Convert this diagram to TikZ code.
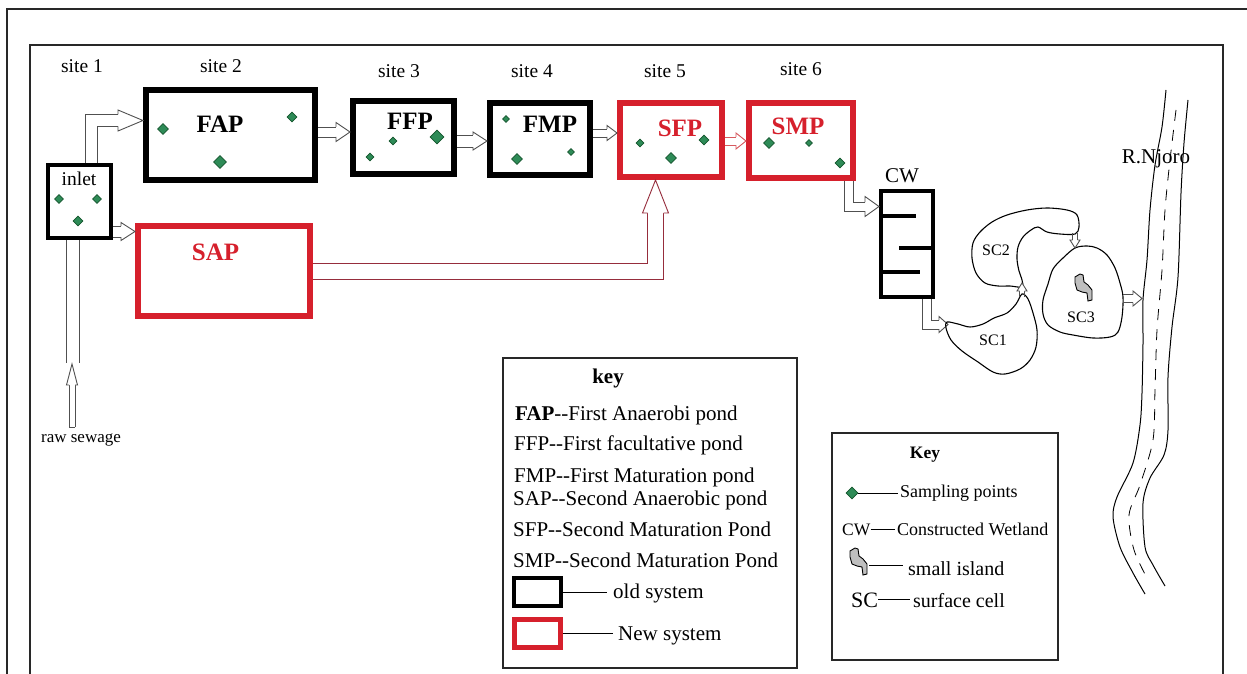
\documentclass[tikz,border=0pt]{standalone}
\usepackage{fontspec}
\setmainfont{Liberation Serif}
\usetikzlibrary{calc,shapes.geometric}
\definecolor{pred}{RGB}{214,32,44}
\definecolor{mgreen}{RGB}{46,139,87}
\definecolor{dgreen}{RGB}{20,85,45}
\definecolor{pipecol}{RGB}{80,80,80}
\definecolor{sapcol}{RGB}{150,45,60}
\definecolor{lredcol}{RGB}{215,90,95}
\definecolor{framecol}{RGB}{40,40,40}
\newcommand\szSite{\fontsize{19.5}{23}\selectfont}
\newcommand\szPond{\fontsize{25}{29}\selectfont\bfseries}
\newcommand\szKey{\fontsize{21}{25}\selectfont}
\newcommand\szKeyB{\fontsize{18}{21}\selectfont}
\newcommand\szSC{\fontsize{16}{19}\selectfont}
% arrow head: [style]{base}{tip}{shaft half width}{head half width}
\newcommand\blkhead[5][]{%
  \fill[white] ($(#2)!#5!90:(#3)$) -- (#3) -- ($(#2)!#5!-90:(#3)$) -- cycle;
  \draw[pline,#1] ($(#2)!#4!90:(#3)$) -- ($(#2)!#5!90:(#3)$) -- (#3) -- ($(#2)!#5!-90:(#3)$) -- ($(#2)!#4!-90:(#3)$);
}
% straight horizontal shaft: [style]{from}{to}{half width}
\newcommand\hshaft[4][]{%
  \draw[pline,#1] ($(#2)+(0,-#4)$) -- ($(#3)+(0,-#4)$);
  \draw[pline,#1] ($(#2)+(0,#4)$) -- ($(#3)+(0,#4)$);
}
% straight vertical shaft
\newcommand\vshaft[4][]{%
  \draw[pline,#1] ($(#2)+(-#4,0)$) -- ($(#3)+(-#4,0)$);
  \draw[pline,#1] ($(#2)+(#4,0)$) -- ($(#3)+(#4,0)$);
}
\begin{document}
\begin{tikzpicture}[x=1pt,y=-1pt,
  bpond/.style={rectangle, draw=black, line width=6pt, inner sep=0pt, fill=white},
  rpond/.style={rectangle, draw=pred, line width=6pt, inner sep=0pt, fill=white},
  pline/.style={draw=pipecol, line width=0.9pt, line join=miter},
  lbl/.style={anchor=base, inner sep=0pt},
  lblw/.style={anchor=base west, inner sep=0pt},
  dia/.style={diamond, draw=dgreen, fill=mgreen, line width=0.6pt, inner sep=0pt, minimum size=#1},
  dia/.default=10pt,
  frame/.style={draw=framecol, line width=1.4pt},
  keybox/.style={rectangle, draw=framecol, line width=1.2pt, inner sep=0pt},
  scline/.style={draw=black, line width=1.1pt},
  bank/.style={draw=black, line width=1pt},
  island/.pic={\filldraw[fill=black!25, draw=black, line width=0.9pt] (-8,-10) -- (-3,-13) -- (0,-12) -- (1,-5) -- (5,-2) -- (9,3) -- (9,13) -- (5,14) -- (4,6) -- (-1,5) -- (-6,3) -- (-8,-4) -- cycle;}
]
\useasboundingbox (0,0) rectangle (1247,674);
\fill[white] (0,0) rectangle (1247,674);

% frames
\draw[frame] (7,674) -- (7,9) -- (1247,9);
\draw[frame] (30,674) -- (30,45) -- (1223,45) -- (1223,674);

% ponds
\node[bpond, line width=4pt, minimum width=63, minimum height=73] (inlet) at (79.5,201.5) {};
\node[bpond, minimum width=169, minimum height=90] (fap) at (230.5,135) {};
\node[bpond, minimum width=101, minimum height=73] (ffp) at (403.5,137.5) {};
\node[bpond, minimum width=100, minimum height=72] (fmp) at (540,139) {};
\node[rpond, minimum width=102, minimum height=74] (sfp) at (671,140) {};
\node[rpond, minimum width=104, minimum height=75] (smp) at (801,140.5) {};
\node[rpond, minimum width=172, minimum height=90] (sap) at (224,271) {};
\node[bpond, line width=4pt, minimum width=52, minimum height=106] (cw) at (907,244) {};
% CW baffles
\draw[line width=3.5pt] (cw.west |- 0,216) -- (916,216);
\draw[line width=3.5pt] (899,248) -- (cw.east |- 0,248);
\draw[line width=3.5pt] (cw.west |- 0,272) -- (920,272);

% inlet -> FAP (up, then right)
\coordinate (a1) at ($(inlet.north)+(11.5,0)$);
\coordinate (h1) at (118,120.5); \coordinate (t1) at (fap.west |- h1);
\draw[pline] ($(a1)+(-6,0)$) |- ($(h1)+(0,-6)$);
\draw[pline] ($(a1)+(6,0)$) |- ($(h1)+(0,6)$);
\blkhead{h1}{t1}{6pt}{10.5pt}

% inlet -> SAP
\coordinate (h2) at (121,231.5); \coordinate (t2) at (sap.west |- h2);
\coordinate (a2) at (inlet.east |- h2);
\hshaft{a2}{h2}{5.5}
\blkhead{h2}{t2}{5.5pt}{9pt}

% FAP -> FFP
\coordinate (h3) at (336,132); \coordinate (t3) at (ffp.west |- h3);
\coordinate (a3) at (fap.east |- h3);
\hshaft{a3}{h3}{5}
\blkhead{h3}{t3}{5pt}{9.5pt}

% FFP -> FMP
\coordinate (h4) at (473,141); \coordinate (t4) at (fmp.west |- h4);
\coordinate (a4) at (ffp.east |- h4);
\hshaft{a4}{h4}{6}
\blkhead{h4}{t4}{6pt}{9pt}

% FMP -> SFP
\coordinate (h5) at (607,133); \coordinate (t5) at (sfp.west |- h5);
\coordinate (a5) at (fmp.east |- h5);
\hshaft{a5}{h5}{4}
\blkhead{h5}{t5}{4pt}{7.5pt}

% SFP -> SMP
\coordinate (h6) at (736,141); \coordinate (t6) at (smp.west |- h6);
\coordinate (a6) at (sfp.east |- h6);
\hshaft[draw=lredcol]{a6}{h6}{4}
\blkhead[draw=lredcol]{h6}{t6}{4pt}{8pt}

% SAP -> SFP (right, then up)
\coordinate (a7) at (sap.east);
\coordinate (h7) at (655.5,213); \coordinate (t7) at (h7 |- sfp.south);
\draw[pline, draw=sapcol] ($(a7)+(0,8)$) -| ($(h7)+(8,0)$);
\draw[pline, draw=sapcol] ($(a7)+(0,-8)$) -| ($(h7)+(-8,0)$);
\blkhead[draw=sapcol]{h7}{t7}{8pt}{13pt}

% SMP -> CW (down, then right)
\coordinate (a8) at ($(smp.south)+(47.5,0)$);
\coordinate (h8) at (865,206.5); \coordinate (t8) at (cw.west |- h8);
\draw[pline] ($(a8)+(-4.5,0)$) |- ($(h8)+(0,4.5)$);
\draw[pline] ($(a8)+(4.5,0)$) |- ($(h8)+(0,-4.5)$);
\blkhead{h8}{t8}{4.5pt}{10pt}

% CW -> SC1 (down, then right)
\coordinate (a9) at ($(cw.south)+(19.5,0)$);
\coordinate (h9) at (939,324.5); \coordinate (t9) at (948,324.5);
\draw[pline] ($(a9)+(-4.5,0)$) |- ($(h9)+(0,4.5)$);
\draw[pline] ($(a9)+(4.5,0)$) |- ($(h9)+(0,-4.5)$);
\blkhead{h9}{t9}{4.5pt}{8pt}

% inlet bottom pipe and raw sewage
\coordinate (p1) at ($(inlet.south)+(-7,0)$);
\coordinate (p0) at (72.5,363);
\vshaft{p1}{p0}{6.5}
\coordinate (r0) at (72,427); \coordinate (h13) at (72,385); \coordinate (t13) at (72,364);
\vshaft{r0}{h13}{3}
\draw[pline] ($(r0)+(-3,0)$) -- ($(r0)+(3,0)$);
\blkhead{h13}{t13}{3pt}{5.5pt}
\node[lbl, font=\fontsize{17}{20}\selectfont] (raw) at (81,442) {raw sewage};

% surface cells
\draw[scline] plot[smooth cycle, tension=0.55] coordinates {(947,322) (958,324) (970,327) (983,324) (994,318) (1007,313) (1016,304) (1022,294) (1028,299) (1033,313) (1037,330) (1036,347) (1030,360) (1020,369) (1005,374) (993,372) (978,362) (962,351) (951,340) (946,328)};
\draw[scline] plot[smooth cycle, tension=0.55] coordinates {(1022,287) (1010,286) (998,286) (985,283) (976,273) (972,258) (973,243) (980,232) (992,222) (1007,215) (1027,210) (1047,208) (1067,210) (1077,215) (1079,227) (1075,234) (1060,234) (1047,232) (1038,227) (1031,230) (1023,237) (1018,247) (1017,259) (1019,271) (1022,280)};
\draw[scline] plot[smooth cycle, tension=0.55] coordinates {(1075,248) (1087,246) (1097,248) (1107,255) (1115,268) (1120,283) (1123,297) (1122,317) (1118,332) (1110,337) (1093,338) (1073,335) (1060,332) (1048,325) (1043,314) (1043,300) (1048,284) (1053,269) (1063,258)};
\pic at (1083,287) {island};
\node[lbl, font=\szSC] (sc2) at (996,255) {SC2};
\node[lbl, font=\szSC] (sc1) at (993,345) {SC1};
\node[lbl, font=\szSC] (sc3) at (1081,322) {SC3};

\coordinate (a10) at (1022,297); \coordinate (h10) at (1022,291); \coordinate (t10) at (1022,283);
\vshaft{a10}{h10}{2.5}
\blkhead{h10}{t10}{2.5pt}{5pt}
\coordinate (a11) at (1075,233); \coordinate (h11) at (1075,240); \coordinate (t11) at (1075,248);
\vshaft{a11}{h11}{2.5}
\blkhead{h11}{t11}{2.5pt}{5pt}
\coordinate (a12) at (1123,298.5); \coordinate (h12) at (1133,298.5); \coordinate (t12) at (1142,298.5);
\hshaft{a12}{h12}{4}
\blkhead{h12}{t12}{4pt}{7.5pt}

% river
\draw[bank] plot[smooth] coordinates {(1166,90) (1162,127) (1155,165) (1150,210) (1147,260) (1143,300) (1143,343) (1142,393) (1140,425) (1133,463) (1117,497) (1113,517) (1120,547) (1133,573) (1145,594)};
\draw[bank] plot[smooth] coordinates {(1188,100) (1184,143) (1181,193) (1178,277) (1172,327) (1168,377) (1168,430) (1164,455) (1150,478) (1143,503) (1145,547) (1153,565) (1165,586)};
\draw[line width=0.8pt, dash pattern=on 11pt off 9pt] plot[smooth] coordinates {(1176,110) (1170,160) (1165,210) (1162,270) (1157,330) (1155,390) (1153,440) (1140,485) (1129,515) (1134,550) (1148,580)};
\node[lbl, font=\fontsize{21}{25}\selectfont] (njoro) at (1156,163) {R.Njoro};

% labels
\node[lbl, font=\szSite] (s1) at (82,73) {site 1};
\node[lbl, font=\szSite] (s2) at (221,73) {site 2};
\node[lbl, font=\szSite] (s3) at (399,78) {site 3};
\node[lbl, font=\szSite] (s4) at (532,78) {site 4};
\node[lbl, font=\szSite] (s5) at (665,78) {site 5};
\node[lbl, font=\szSite] (s6) at (801,76) {site 6};
\node[lbl, font=\szSite] (linlet) at (79,185) {inlet};
\node[lbl, font=\szPond] (lfap) at (220,132) {FAP};
\node[lbl, font=\szPond] (lffp) at (410,130) {FFP};
\node[lbl, font=\szPond] (lfmp) at (550,132) {FMP};
\node[lbl, font=\szPond, text=pred] (lsfp) at (680,136) {SFP};
\node[lbl, font=\szPond, text=pred] (lsmp) at (798,135) {SMP};
\node[lbl, font=\szPond, text=pred] (lsap) at (215.5,260) {SAP};
\node[lbl, font=\fontsize{21}{25}\selectfont] (lcw) at (902,182) {CW};

% sampling points
\node[dia=9pt] (d1) at (59,199) {};
\node[dia=9pt] (d2) at (97,199) {};
\node[dia=10pt] (d3) at (78,221) {};
\node[dia=11pt] (d4) at (163,129) {};
\node[dia=10pt] (d5) at (292,117) {};
\node[dia=13pt] (d6) at (220,162) {};
\node[dia=8pt] (d7) at (393,141) {};
\node[dia=14pt] (d8) at (437,137) {};
\node[dia=8pt] (d9) at (370,157) {};
\node[dia=7pt] (d10) at (506,119) {};
\node[dia=11pt] (d11) at (517,159) {};
\node[dia=7pt] (d12) at (571,152) {};
\node[dia=8pt] (d13) at (640,143) {};
\node[dia=11pt] (d14) at (671,158) {};
\node[dia=10pt] (d15) at (704,140) {};
\node[dia=11pt] (d16) at (769,143) {};
\node[dia=7pt] (d17) at (809,143) {};
\node[dia=10pt] (d18) at (840,163) {};

% key 1
\node[keybox, minimum width=294, minimum height=310] (key1) at (650,513) {};
\node[lbl, font=\szKey\bfseries] (k1t) at (608,383) {key};
\node[lblw, font=\szKey] (k1a) at (515,420) {\textbf{FAP}-{}-First Anaerobi pond};
\node[lblw, font=\szKey] (k1b) at (514,450) {FFP-{}-First facultative pond};
\node[lblw, font=\szKey] (k1c) at (514,482) {FMP-{}-First Maturation pond};
\node[lblw, font=\szKey] (k1d) at (513,505) {SAP-{}-Second Anaerobic pond};
\node[lblw, font=\szKey] (k1e) at (513,536) {SFP-{}-Second Maturation Pond};
\node[lblw, font=\szKey] (k1f) at (513,567) {SMP-{}-Second Maturation Pond};
\node[bpond, line width=4pt, minimum width=47, minimum height=28] (oldbox) at (537.5,592) {};
\node[rpond, line width=5pt, minimum width=46, minimum height=28] (newbox) at (537.5,633.5) {};
\node[lblw, font=\szKey, inner xsep=6pt] (oldt) at (607,598) {old system};
\node[lblw, font=\szKey, inner xsep=5pt] (newt) at (613,640) {New system};
\draw[line width=1pt] (oldbox.east) -- (oldbox.east -| oldt.west);
\draw[line width=1pt] (newbox.east) -- (newbox.east -| newt.west);

% key 2
\node[keybox, minimum width=226, minimum height=227] (key2) at (945,546.5) {};
\node[lbl, font=\fontsize{17.5}{21}\selectfont\bfseries] (k2t) at (925,458) {Key};
\node[dia=12pt] (kdia) at (852,493) {};
\node[lblw, font=\szKeyB, inner xsep=2pt] (kdiat) at (898,497) {Sampling points};
\draw[line width=1pt] (kdia.east) -- (kdia.east -| kdiat.west);
\node[lblw, font=\fontsize{17.5}{21}\selectfont] (kcw) at (842,535) {CW};
\node[lblw, font=\szKeyB, inner xsep=2pt] (kcwt) at (895,535) {Constructed Wetland};
\draw[line width=1pt] (kcw.east) -- (kcw.east -| kcwt.west);
\pic at (858,561) {island};
\coordinate (kisl) at (869,565);
\node[lblw, font=\fontsize{20}{24}\selectfont, inner xsep=5pt] (kislt) at (903,575) {small island};
\draw[line width=1pt] (kisl) -- (kisl -| kislt.west);
\node[lblw, font=\fontsize{22}{26}\selectfont] (ksc) at (851,607) {SC};
\node[lblw, font=\fontsize{20}{24}\selectfont, inner xsep=3pt] (ksct) at (910,607) {surface cell};
\draw[line width=1pt] (ksc.east) -- (ksc.east -| ksct.west);
\end{tikzpicture}
\end{document}
